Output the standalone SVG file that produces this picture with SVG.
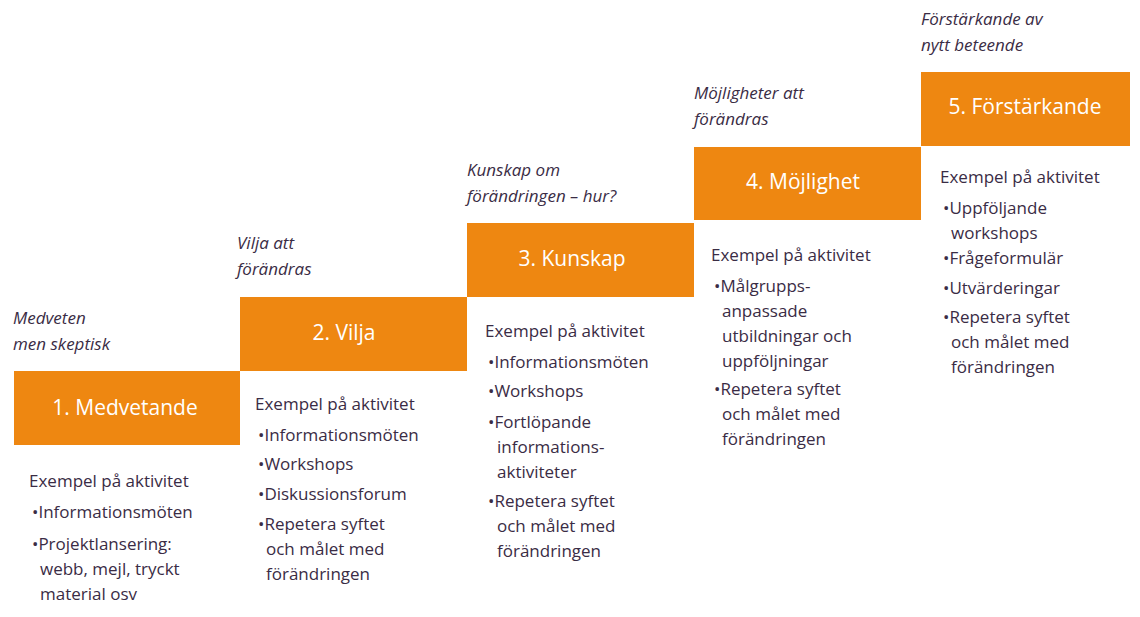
<svg xmlns="http://www.w3.org/2000/svg" width="1140" height="617" viewBox="0 0 1140 617">
<style>
.box{fill:#EE8711}
.t{font-family:"Open Sans",sans-serif;font-size:17px;fill:#3a2c45}
.i{font-style:italic}
.h{font-family:"Open Sans",sans-serif;font-size:21px;fill:#fff;text-anchor:middle}
</style>
<rect width="1140" height="617" fill="#fff"/>
<g id="step1">
<rect class="box" x="14" y="371" width="226" height="74"/>
<text class="h" x="125" y="415">1. Medvetande</text>
<text class="t i" x="13" y="324">Medveten</text><text class="t i" x="13" y="350">men skeptisk</text>
<text class="t" x="29" y="487">Exempel på aktivitet</text>
<text class="t" x="32" y="518">•Informationsmöten</text>
<text class="t" x="32" y="550">•Projektlansering:</text>
<text class="t" x="40" y="575">webb, mejl, tryckt</text>
<text class="t" x="40" y="600">material osv</text>
</g>
<g id="step2">
<rect class="box" x="240" y="297" width="227" height="74"/>
<text class="h" x="344" y="340">2. Vilja</text>
<text class="t i" x="237" y="249">Vilja att</text><text class="t i" x="237" y="275">förändras</text>
<text class="t" x="255" y="410">Exempel på aktivitet</text>
<text class="t" x="258" y="441">•Informationsmöten</text>
<text class="t" x="258" y="470">•Workshops</text>
<text class="t" x="258" y="500">•Diskussionsforum</text>
<text class="t" x="258" y="530">•Repetera syftet</text>
<text class="t" x="266" y="555">och målet med</text>
<text class="t" x="266" y="580">förändringen</text>
</g>
<g id="step3">
<rect class="box" x="467" y="223" width="227" height="74"/>
<text class="h" x="572" y="266">3. Kunskap</text>
<text class="t i" x="467" y="176">Kunskap om</text><text class="t i" x="467" y="202">förändringen – hur?</text>
<text class="t" x="485" y="337">Exempel på aktivitet</text>
<text class="t" x="488" y="368">•Informationsmöten</text>
<text class="t" x="488" y="397">•Workshops</text>
<text class="t" x="488" y="428">•Fortlöpande</text>
<text class="t" x="497" y="453">informations-</text>
<text class="t" x="497" y="478">aktiviteter</text>
<text class="t" x="488" y="507">•Repetera syftet</text>
<text class="t" x="497" y="532">och målet med</text>
<text class="t" x="497" y="557">förändringen</text>
</g>
<g id="step4">
<rect class="box" x="694" y="147" width="227" height="73"/>
<text class="h" x="803" y="189">4. Möjlighet</text>
<text class="t i" x="694" y="99">Möjligheter att</text><text class="t i" x="694" y="125">förändras</text>
<text class="t" x="711" y="261">Exempel på aktivitet</text>
<text class="t" x="714" y="292">•Målgrupps-</text>
<text class="t" x="722" y="317">anpassade</text>
<text class="t" x="722" y="342">utbildningar och</text>
<text class="t" x="722" y="367">uppföljningar</text>
<text class="t" x="714" y="395">•Repetera syftet</text>
<text class="t" x="722" y="420">och målet med</text>
<text class="t" x="722" y="445">förändringen</text>
</g>
<g id="step5">
<rect class="box" x="921" y="72" width="209" height="74"/>
<text class="h" x="1025" y="114">5. Förstärkande</text>
<text class="t i" x="921" y="25">Förstärkande av</text><text class="t i" x="921" y="51">nytt beteende</text>
<text class="t" x="940" y="183">Exempel på aktivitet</text>
<text class="t" x="943" y="214">•Uppföljande</text>
<text class="t" x="951" y="239">workshops</text>
<text class="t" x="943" y="264">•Frågeformulär</text>
<text class="t" x="943" y="294">•Utvärderingar</text>
<text class="t" x="943" y="323">•Repetera syftet</text>
<text class="t" x="951" y="348">och målet med</text>
<text class="t" x="951" y="373">förändringen</text>
</g>
<g id="connectors"/>
</svg>
